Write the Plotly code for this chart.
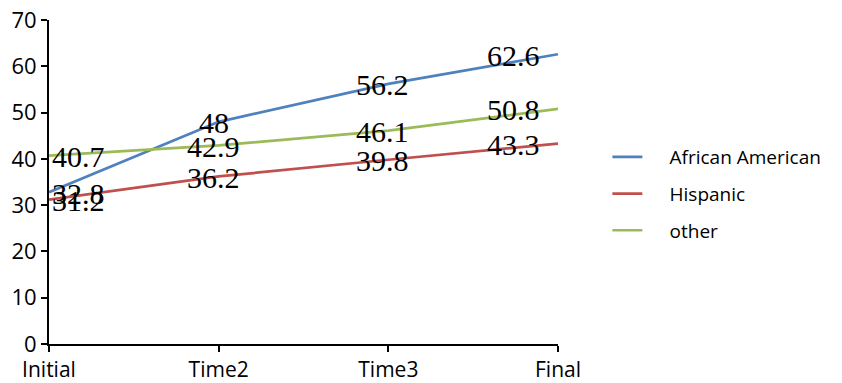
import plotly.graph_objects as go

# Time points and group scores
periods = ["Initial", "Time2", "Time3", "Final"]
african_american = [32.8, 48, 56.2, 62.6]
hispanic = [31.2, 36.2, 39.8, 43.3]
other = [40.7, 42.9, 46.1, 50.8]

series = [
    ("African American", african_american, "#4F81BD"),
    ("Hispanic", hispanic, "#C0504D"),
    ("other", other, "#9BBB59"),
]

y_ticks = list(range(0, 71, 10))

# extra gap between legend swatch and its label
LEGEND_PAD = "\u2002\u2002\u2009"

fig = go.Figure()

for name, values, color in series:
    fig.add_trace(go.Scatter(
        x=periods,
        y=values,
        mode="lines",
        name=LEGEND_PAD + name,
        legendgroup=name,
        line=dict(color=color, width=2.7),
    ))

# Value labels: first column left-aligned, last right-aligned, middle centered
anchor_by_index = {0: ("left", 1), 1: ("center", -5), 2: ("center", -6), 3: ("right", -16)}
for name, values, color in series:
    for i, (p, v) in enumerate(zip(periods, values)):
        xa, xs = anchor_by_index[i]
        fig.add_annotation(
            x=p, y=v, text=f"{v:g}", showarrow=False,
            xanchor=xa, yanchor="middle", xshift=xs, yshift=-1,
            font=dict(family="Liberation Serif, Times New Roman, serif", size=30, color="black"),
        )

fig.update_xaxes(
    type="category",
    range=[0, 3],
    automargin=False,
    showline=True, linecolor="black", linewidth=2,
    ticks="outside", ticklen=6, tickwidth=2, tickcolor="black",
    showgrid=False, zeroline=False,
    tickfont=dict(family="Open Sans, sans-serif", size=21, color="black"),
)
fig.update_yaxes(
    range=[0, 70],
    tickvals=y_ticks,
    automargin=False,
    showline=True, linecolor="black", linewidth=2,
    ticks="outside", ticklen=6, tickwidth=2, tickcolor="black",
    showgrid=False, zeroline=False,
    tickfont=dict(family="Open Sans, sans-serif", size=22, color="black"),
)

fig.update_layout(
    width=842, height=383,
    margin=dict(l=49, r=284, t=20, b=39),
    paper_bgcolor="white", plot_bgcolor="white",
    showlegend=True,
    legend=dict(
        x=1.097, xanchor="left", y=0.463, yanchor="middle",
        font=dict(family="Open Sans, sans-serif", size=19, color="black"),
        tracegroupgap=9,
        borderwidth=0,
        bgcolor="rgba(0,0,0,0)",
    ),
)

fig.write_html("out.html")
